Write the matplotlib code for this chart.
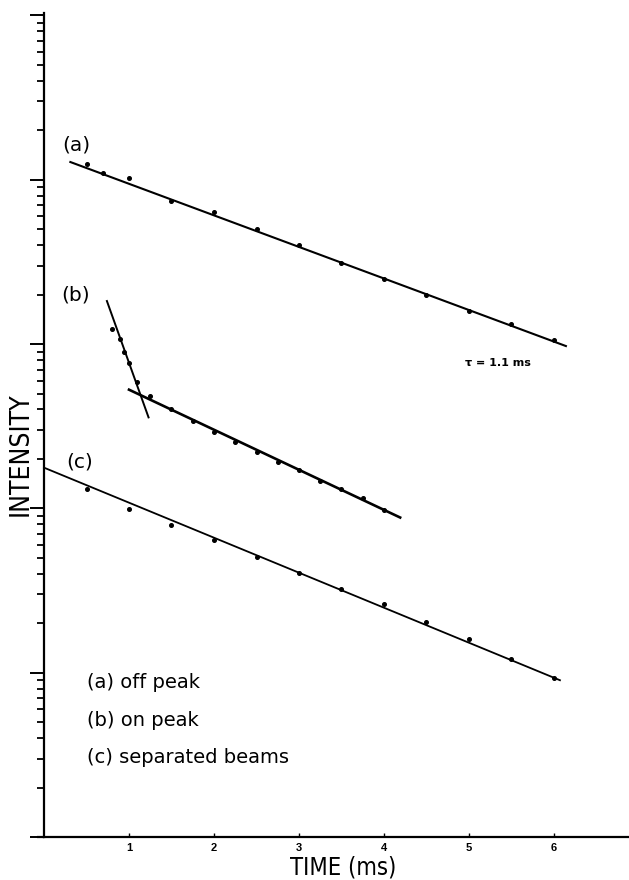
import os
import matplotlib
matplotlib.use("Agg")
import matplotlib.pyplot as plt
from matplotlib import font_manager
from matplotlib.font_manager import FontProperties
from matplotlib.ticker import LogLocator, NullFormatter, FixedLocator

# ---------------- data ----------------
t_a = [0.5, 0.7, 1.0, 1.5, 2.0, 2.5, 3.0, 3.5, 4.0, 4.5, 5.0, 5.5, 6.0]
I_a = [12500, 11000, 10300, 7430, 6340, 5020, 4010, 3100, 2490, 1990, 1590, 1330, 1060]
fit_a_t = [0.31, 6.14]
fit_a_I = [12830, 973]

t_b_fast = [0.80, 0.89, 0.94, 1.00, 1.09]
I_b_fast = [1236, 1074, 895, 764, 585]
fit_b_fast_t = [0.74, 1.23]
fit_b_fast_I = [1829, 358]

t_b_slow = [1.25, 1.5, 1.75, 2.0, 2.25, 2.5, 2.75, 3.0, 3.25, 3.5, 3.75, 4.0]
I_b_slow = [483, 401, 340, 293, 255, 220, 191, 171, 147, 131, 115, 98]
fit_b_slow_t = [1.0, 4.19]
fit_b_slow_I = [528, 88]

t_c = [0.5, 1.0, 1.5, 2.0, 2.5, 3.0, 3.5, 4.0, 4.5, 5.0, 5.5, 6.0]
I_c = [131, 99.6, 79.6, 64.2, 50.4, 40.3, 32.2, 26.2, 20.4, 16.0, 12.1, 9.33]
fit_c_t = [0.0, 6.07]
fit_c_I = [177, 9.0]

x_ticks = [1, 2, 3, 4, 5, 6]
x_tick_labels = ["1", "2", "3", "4", "5", "6"]
curve_labels = ["(a)", "(b)", "(c)"]
legend_lines = ["(a) off peak", "(b) on peak", "(c) separated beams"]
tau_text = "\u03c4 = 1.1 ms"

# ---------------- fonts ----------------
def narrow_font(size):
    # prefer a condensed sans face for the axis titles if one is installed
    for f in font_manager.fontManager.ttflist:
        if f.name == "Liberation Sans Narrow" and f.weight in (400, "normal") and f.style == "normal":
            return FontProperties(fname=f.fname, size=size)
    for f in font_manager.fontManager.ttflist:
        if os.path.basename(f.fname) == "DejaVuSansCondensed.ttf":
            return FontProperties(fname=f.fname, size=size)
    return FontProperties(family="Liberation Sans", size=size * 0.86)

label_font = "DejaVu Sans"

W, H = 629, 880
fig = plt.figure(figsize=(W / 100, H / 100), dpi=100)

def fx(px):
    return px / W

def fy(py):
    return 1 - py / H

left, right, top, bottom = 44, 629, 13, 837
ax = fig.add_axes([fx(left), fy(bottom), fx(right) - fx(left), fy(top) - fy(bottom)])

ax.set_yscale("log")
ax.set_xlim(0, (right - left) / 85.0)
ax.set_ylim(1, 10 ** ((bottom - top) / 164.3))

ax.spines["top"].set_visible(False)
ax.spines["right"].set_visible(False)
for s in ("left", "bottom"):
    ax.spines[s].set_linewidth(1.6)

ax.yaxis.set_major_locator(LogLocator(base=10, numticks=12))
ax.yaxis.set_minor_locator(LogLocator(base=10, subs=range(2, 10), numticks=12))
ax.yaxis.set_major_formatter(NullFormatter())
ax.yaxis.set_minor_formatter(NullFormatter())
ax.tick_params(axis="y", which="major", direction="out", length=10, width=1.4)
ax.tick_params(axis="y", which="minor", direction="out", length=5, width=1.3)

ax.xaxis.set_major_locator(FixedLocator(x_ticks))
ax.set_xticklabels(x_tick_labels, fontsize=8, fontweight="bold", family="Liberation Sans")
ax.tick_params(axis="x", which="major", direction="in", length=3, width=1.0, pad=4)
ax.tick_params(axis="x", which="minor", length=0)

# small overhang of the bottom axis to the left
ax.plot([-0.08, 0], [1, 1], color="black", lw=1.6, clip_on=False, solid_capstyle="butt")

# fitted lines
ax.plot(fit_a_t, fit_a_I, color="black", lw=1.5)
ax.plot(fit_b_fast_t, fit_b_fast_I, color="black", lw=1.4)
ax.plot(fit_b_slow_t, fit_b_slow_I, color="black", lw=1.9)
ax.plot(fit_c_t, fit_c_I, color="black", lw=1.3, clip_on=False)

# data points
for t, I in ((t_a, I_a), (t_b_fast, I_b_fast), (t_b_slow, I_b_slow), (t_c, I_c)):
    ax.plot(t, I, linestyle="none", marker="o", markersize=2.6, color="black")

# curve labels
fig.text(fx(76), fy(145), curve_labels[0], fontsize=14.5, family=label_font, ha="center", va="center")
fig.text(fx(76), fy(295), curve_labels[1], fontsize=14.5, family=label_font, ha="center", va="center")
fig.text(fx(80), fy(462), curve_labels[2], fontsize=14.5, family=label_font, ha="center", va="center")

# legend text
for txt, y in zip(legend_lines, [682, 720, 757]):
    fig.text(fx(87), fy(y), txt, fontsize=14, family=label_font, ha="left", va="center")

# tau annotation
fig.text(fx(498), fy(363), tau_text, fontsize=8, fontweight="bold", family="DejaVu Sans",
         ha="center", va="center")

# axis titles
fig.text(fx(21), fy(454), "INTENSITY", rotation=90, fontproperties=narrow_font(19),
         ha="center", va="center")
fig.text(fx(343), fy(867), "TIME (ms)", fontproperties=narrow_font(17), ha="center", va="center")

fig.savefig("out.png", dpi=100)
